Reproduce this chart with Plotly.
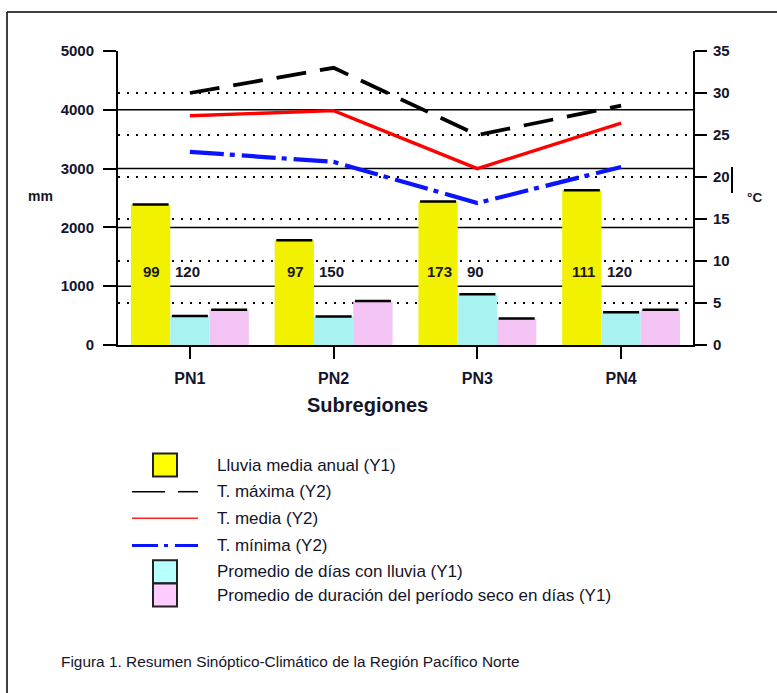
import plotly.graph_objects as go

# ---------------- data ----------------
categorias = ["PN1", "PN2", "PN3", "PN4"]
lluvia_media_anual = [2390, 1780, 2440, 2630]          # mm (Y1)
dias_con_lluvia_barra = [495, 485, 865, 555]           # bar height on Y1
periodo_seco_barra = [600, 750, 450, 600]              # bar height on Y1
t_maxima = [30.0, 33.0, 25.0, 28.5]                    # °C (Y2)
t_media = [27.3, 27.9, 21.0, 26.4]                     # °C (Y2)
t_minima = [23.0, 21.8, 16.9, 21.2]                    # °C (Y2)
etiqueta_dias_lluvia = ["99", "97", "173", "111"]
etiqueta_periodo_seco = ["120", "150", "90", "120"]
y1_ticks = [0, 1000, 2000, 3000, 4000, 5000]
y2_ticks = [0, 5, 10, 15, 20, 25, 30, 35]
y1_grid = [1000, 2000, 3000, 4000]

nombres = [
    "Lluvia media anual (Y1)",
    "T. máxima (Y2)",
    "T. media (Y2)",
    "T. mínima (Y2)",
    "Promedio de días con lluvia (Y1)",
    "Promedio de duración del período seco en días (Y1)",
]

# ---------------- geometry / style ----------------
W, H = 777, 693
L, R, T, B = 118, 693, 51, 345
FONT = "Liberation Sans, Arial, sans-serif"
TXT = "#14142a"
C_YEL = "#F2F200"
C_CYA = "#A9F2F2"
C_PIN = "#F3C3F3"


def px(x, y):
    return (x - L) / (R - L), (B - y) / (B - T)


def pann(x, y, text, size, bold=False, xanchor="center", color=TXT):
    xx, yy = px(x, y)
    return dict(x=xx, y=yy, xref="paper", yref="paper", text=text, showarrow=False,
                xanchor=xanchor, yanchor="middle",
                font=dict(family=FONT, size=size, color=color,
                          weight="bold" if bold else "normal"))


def pline(x0, y0, x1, y1, color, width):
    a, b = px(x0, y0)
    c, d = px(x1, y1)
    return dict(type="line", xref="paper", yref="paper", x0=a, y0=b, x1=c, y1=d,
                line=dict(color=color, width=width))


fig = go.Figure()

for vals, col in [(lluvia_media_anual, C_YEL), (dias_con_lluvia_barra, C_CYA),
                  (periodo_seco_barra, C_PIN)]:
    fig.add_trace(go.Bar(
        x=categorias, y=vals, yaxis="y", marker=dict(color=col, line=dict(width=0)),
        error_y=dict(type="data", array=[0] * len(vals), visible=True,
                     color="black", thickness=2.5, width=18),
        showlegend=False, hoverinfo="skip"))

fig.add_trace(go.Scatter(x=categorias, y=t_maxima, yaxis="y2", mode="lines",
                         line=dict(color="black", width=3.8, dash="30px,14px"),
                         showlegend=False))
fig.add_trace(go.Scatter(x=categorias, y=t_media, yaxis="y2", mode="lines",
                         line=dict(color="#FF0000", width=3.4), showlegend=False))
fig.add_trace(go.Scatter(x=categorias, y=t_minima, yaxis="y2", mode="lines",
                         line=dict(color="#0A14FF", width=4.2, dash="34px,6px,5px,7px"),
                         showlegend=False))

shapes = []
for g in y1_grid:
    shapes.append(dict(type="line", xref="paper", yref="y", x0=0, x1=1, y0=g, y1=g,
                       line=dict(color="black", width=1.5), layer="below"))

annotations = []
for c, a, b in zip(categorias, etiqueta_dias_lluvia, etiqueta_periodo_seco):
    annotations.append(dict(x=c, y=1250, xref="x", yref="y", text=a, showarrow=False,
                            xshift=-38,
                            font=dict(family=FONT, size=15, color="#1a1a10", weight="bold")))
    annotations.append(dict(x=c, y=1250, xref="x", yref="y", text=b, showarrow=False,
                            xshift=-2,
                            font=dict(family=FONT, size=15, color=TXT, weight="bold")))

# axis side labels
annotations.append(pann(40, 196, "mm", 14, bold=True))
annotations.append(pann(754, 197, "°C", 13.5, bold=True))
shapes.append(pline(732, 167, 732, 193, "black", 2))

# x axis title
annotations.append(pann(367, 405, "Subregiones", 20, bold=True))

# ---------------- manual legend ----------------
rows = [465, 491.7, 518.3, 545.5, 571.7, 595]
for nm, ry in zip(nombres, rows):
    annotations.append(pann(215, ry, nm, 17, xanchor="left"))

for ry, col in [(rows[0], "#FFFF00"), (rows[4], "#B8FFFF"), (rows[5], "#FFCCFF")]:
    xa, ya = px(153, ry - 11.5)
    xb, yb = px(177, ry + 11.5)
    shapes.append(dict(type="rect", xref="paper", yref="paper", x0=xa, x1=xb, y0=ya, y1=yb,
                       fillcolor=col, line=dict(color="#222", width=2)))

for a, b in [(132, 165), (178, 198)]:
    shapes.append(pline(a, rows[1], b, rows[1], "black", 1.5))
shapes.append(pline(132, rows[2], 198, rows[2], "#FF2020", 1.5))
for a, b in [(132, 158), (164, 168), (175, 198)]:
    shapes.append(pline(a, rows[3], b, rows[3], "#0A14FF", 3))

# caption
annotations.append(pann(59, 661, "Figura 1. Resumen Sinóptico-Climático de la Región Pacífico Norte",
                        15.4, xanchor="left"))

# frame lines
shapes.append(pline(7, 12, 7, 693, "black", 1.5))
shapes.append(pline(7, 12, 777, 12, "black", 1.5))

tickf = dict(family=FONT, size=15, color=TXT, weight="bold")

fig.update_layout(
    width=W, height=H, autosize=False,
    margin=dict(l=L, r=W - R, t=T, b=H - B, pad=0),
    paper_bgcolor="white", plot_bgcolor="white",
    barmode="group", bargap=0.18, bargroupgap=0,
    showlegend=False,
    font=dict(family=FONT, color=TXT),
    xaxis=dict(type="category", showline=True, linecolor="black", linewidth=2,
               ticks="outside", ticklen=12, tickwidth=1.5, tickcolor="black",
               tickfont=dict(family=FONT, size=16, color=TXT, weight="bold"),
               ticklabelstandoff=6, showgrid=False, zeroline=False),
    yaxis=dict(range=[0, 5000], tickvals=y1_ticks, showgrid=False, zeroline=False,
               showline=True, linecolor="black", linewidth=2, ticks="outside",
               ticklen=13, tickwidth=1.5, tickcolor="black", ticklabelstandoff=6,
               tickfont=tickf),
    yaxis2=dict(range=[0, 35], tickvals=y2_ticks, overlaying="y", side="right",
                showgrid=True, gridcolor="black", gridwidth=2, griddash="2px,7px",
                zeroline=False, showline=True, linecolor="black", linewidth=2,
                ticks="outside", ticklen=12, tickwidth=1.5, tickcolor="black",
                ticklabelstandoff=3, tickfont=tickf),
    shapes=shapes, annotations=annotations,
)

fig.write_html("out.html", config={"displayModeBar": False},
               post_script="document.body.style.margin='0px';document.body.style.overflow='hidden';")
